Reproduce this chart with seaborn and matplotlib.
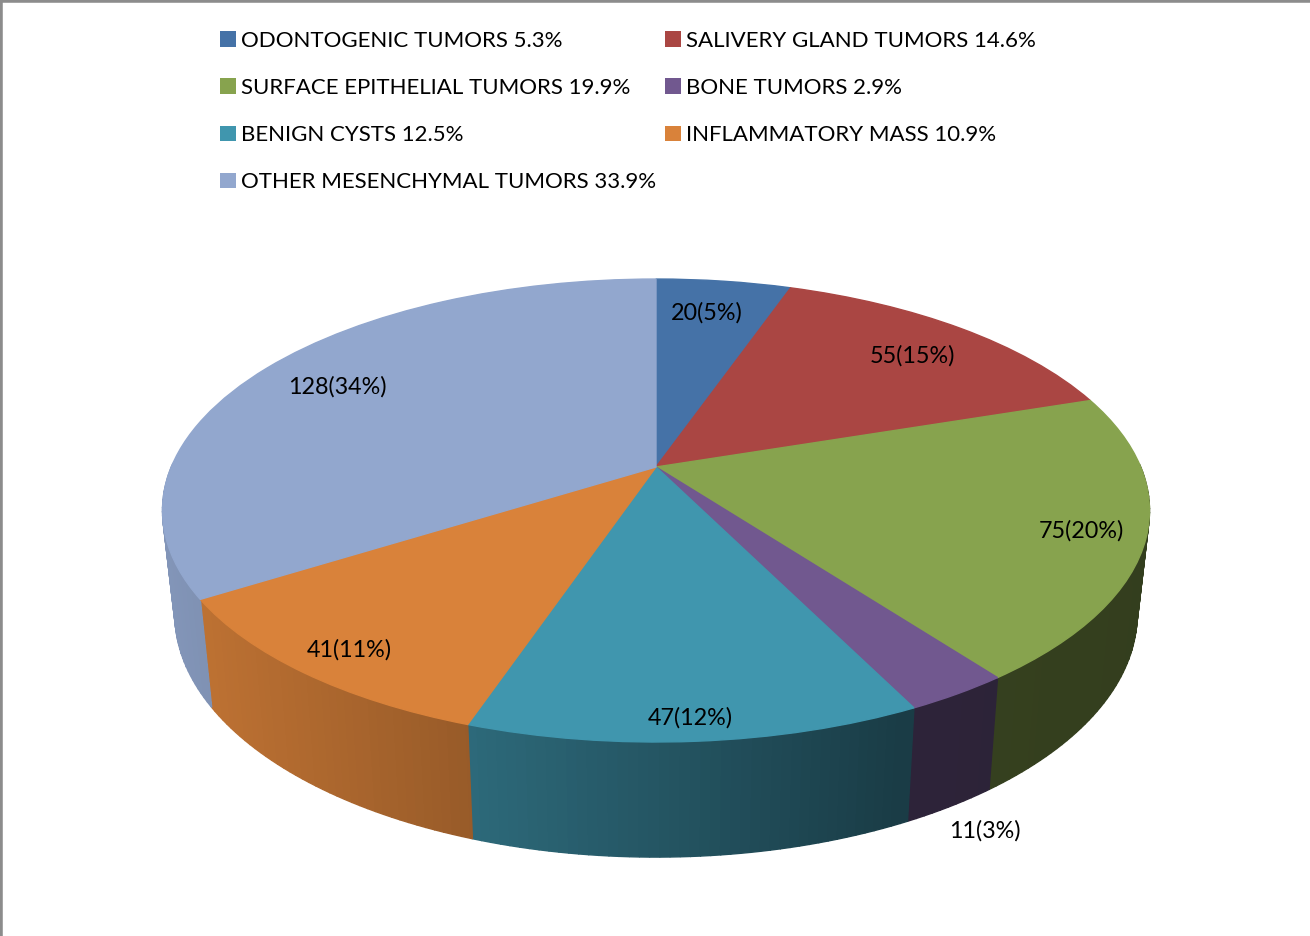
import numpy as np
import matplotlib
matplotlib.use("Agg")
import matplotlib.pyplot as plt
from matplotlib.patches import Patch
from matplotlib.transforms import Transform
import seaborn as sns

# Patient counts per group, clockwise from 12 o'clock
GROUPS = [
    "ODONTOGENIC TUMORS", "SALIVERY GLAND TUMORS", "SURFACE EPITHELIAL TUMORS",
    "BONE TUMORS", "BENIGN CYSTS", "INFLAMMATORY MASS", "OTHER MESENCHYMAL TUMORS",
]
COUNTS = [20, 55, 75, 11, 47, 41, 128]
LEGEND_PCT = ["5.3%", "14.6%", "19.9%", "2.9%", "12.5%", "10.9%", "33.9%"]
SLICE_PCT = ["5%", "15%", "20%", "3%", "12%", "11%", "34%"]
COLORS = ["#4572A7", "#AA4643", "#87A34E", "#71588F", "#4096AE", "#D9823A", "#92A7CE"]

# Where each slice label sits, in image pixels
LABEL_POS = [(707, 313), (912, 356), (1081, 531), (985, 831),
             (690, 718), (349, 650), (337, 387)]

# Legend fills row by row in the original, matplotlib fills by column
LEGEND_ORDER = [0, 2, 4, 6, 1, 3, 5]

# Tilted disc: apex, scale and perspective
APEX_X, APEX_Y = 656.0, 467.0
DISC_A, DISC_B, PERSP = 484.7, 223.3, 0.188
DEPTH_SCALE_X, DEPTH_SCALE_Y, DEPTH_SHIFT = 0.975, 1.05, 78.0


class TiltedDisc(Transform):
    """Unit circle -> perspective ellipse in image pixels."""
    input_dims = 2
    output_dims = 2

    def transform_non_affine(self, values):
        values = np.asarray(values, dtype=float)
        u, v = values[:, 0], values[:, 1]
        w = 1 + PERSP * v
        return np.column_stack((APEX_X + DISC_A * u / w, APEX_Y - DISC_B * v / w))


def wall_shade(x):
    # left side of the wall is lit, right side goes dark
    return np.interp(x - APEX_X, [-500, -186, 250, 500], [0.90, 0.70, 0.40, 0.38])


def draw_wall(ax, wedge, color, proj):
    rgb = np.array(matplotlib.colors.to_rgb(color))
    angles = np.radians(np.arange(wedge.theta1, wedge.theta2 + 1.0, 1.0))
    angles = np.append(angles[angles < np.radians(wedge.theta2)], np.radians(wedge.theta2))
    top = proj.transform_non_affine(np.column_stack((np.cos(angles), np.sin(angles))))
    bot_x = APEX_X + (top[:, 0] - APEX_X) * DEPTH_SCALE_X
    bot_y = top[:, 1] * DEPTH_SCALE_Y + DEPTH_SHIFT
    for i in range(len(angles) - 1):
        # back half of the rim is hidden behind the top face
        if np.sin(angles[i]) > 0 and np.sin(angles[i + 1]) > 0:
            continue
        c = rgb * wall_shade(top[i:i + 2, 0].mean())
        ax.fill(
            [top[i, 0], top[i + 1, 0], bot_x[i + 1], bot_x[i]],
            [top[i, 1], top[i + 1, 1], bot_y[i + 1], bot_y[i]],
            facecolor=c, edgecolor=c, linewidth=1.0, zorder=1,
        )


sns.set_theme(style="white")
plt.rcParams["font.family"] = ["Lato", "DejaVu Sans"]

fig = plt.figure(figsize=(13.1, 9.36), dpi=100)
ax = fig.add_axes([0, 0, 1, 1])

palette = sns.color_palette(COLORS)
proj = TiltedDisc()
wedges, _ = ax.pie(
    COUNTS, colors=palette, startangle=90, counterclock=False, radius=1,
    wedgeprops={"transform": proj + ax.transData, "linewidth": 1.0, "zorder": 2},
)
for wedge, color in zip(wedges, palette):
    wedge.set_edgecolor(color)
    draw_wall(ax, wedge, color, proj)

ax.set_aspect("auto")
ax.set_xlim(0, 1310)
ax.set_ylim(936, 0)

for count, pct, (x, y) in zip(COUNTS, SLICE_PCT, LABEL_POS):
    ax.text(x, y, f"{count}({pct})", fontsize=16.8, color="black",
            ha="center", va="center", zorder=3)

handles = [Patch(facecolor=palette[i], edgecolor="none") for i in LEGEND_ORDER]
labels = [f"{GROUPS[i]} {LEGEND_PCT[i]}" for i in LEGEND_ORDER]
ax.legend(
    handles, labels, loc="upper left", bbox_to_anchor=(220, 31),
    bbox_transform=ax.transData, ncol=2, frameon=False, fontsize=16,
    handlelength=0.72, handleheight=0.72, handletextpad=0.22,
    columnspacing=0.4, labelspacing=1.22, borderpad=0, borderaxespad=0,
    labelcolor="black",
)

# Grey frame only on the top and left edges
ax.set_frame_on(True)
sns.despine(ax=ax, top=False, left=False, right=True, bottom=True)
for side in ("top", "left"):
    ax.spines[side].set_color("#8c8c8c")
    ax.spines[side].set_linewidth(4)

fig.savefig("out.png", dpi=100)
